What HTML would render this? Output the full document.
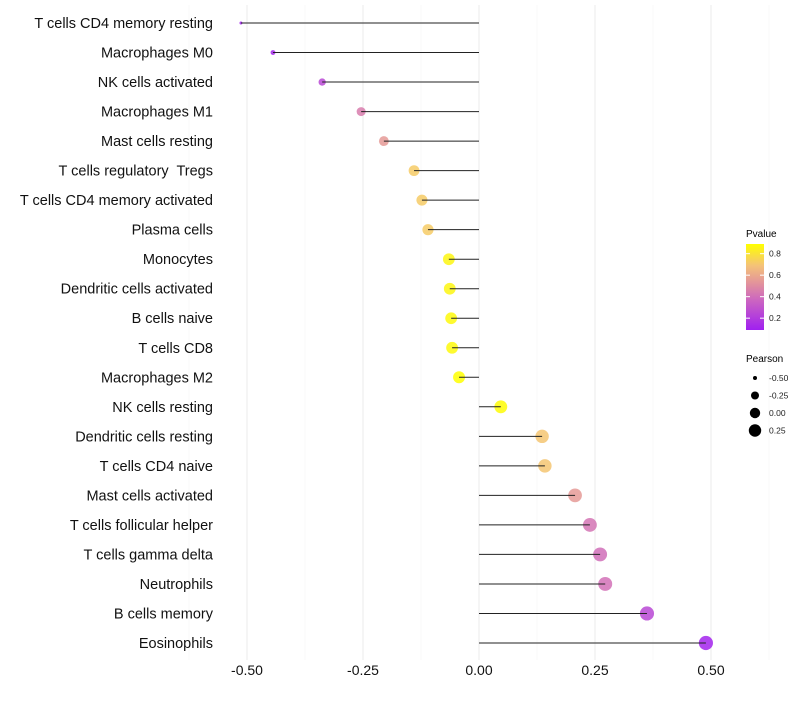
<!DOCTYPE html>
<html><head><meta charset="utf-8"><style>
body{margin:0;background:#fff;font-family:"Liberation Sans",sans-serif;}
</style></head><body>
<svg id="chart" width="800" height="700" xmlns="http://www.w3.org/2000/svg" font-family="Liberation Sans, sans-serif">
<defs>
<linearGradient id="pg" x1="0" y1="1" x2="0" y2="0">
<stop offset="0" stop-color="#a020f0"/>
<stop offset="0.35" stop-color="#cc66c0"/>
<stop offset="0.55" stop-color="#e3949a"/>
<stop offset="0.75" stop-color="#f4c278"/>
<stop offset="1" stop-color="#ffff00"/>
</linearGradient>
</defs>
<g id="grid"></g>
<g id="marks"></g>
<g id="ylabels"></g>
<g id="xlabels"></g>
<g>
<text x="746" y="237" font-size="10">Pvalue</text>
<rect x="746" y="244" width="18" height="86" fill="url(#pg)"/>
<g id="pticks"></g>
</g>
<g>
<text x="746" y="362" font-size="10">Pearson</text>
<g id="sizeleg"></g>
</g>
</svg>
<script>
const categories=["T cells CD4 memory resting","Macrophages M0","NK cells activated","Macrophages M1","Mast cells resting","T cells regulatory\u00a0 Tregs","T cells CD4 memory activated","Plasma cells","Monocytes","Dendritic cells activated","B cells naive","T cells CD8","Macrophages M2","NK cells resting","Dendritic cells resting","T cells CD4 naive","Mast cells activated","T cells follicular helper","T cells gamma delta","Neutrophils","B cells memory","Eosinophils"];
const pearson=[-0.513,-0.444,-0.338,-0.254,-0.205,-0.140,-0.123,-0.110,-0.065,-0.063,-0.060,-0.058,-0.043,0.047,0.136,0.142,0.207,0.239,0.261,0.272,0.362,0.489];
const pvalue=[0.10,0.12,0.25,0.45,0.55,0.72,0.72,0.72,0.86,0.86,0.87,0.87,0.90,0.88,0.70,0.70,0.55,0.42,0.40,0.41,0.25,0.11];
const xTicks=[-0.5,-0.25,0,0.25,0.5];
const xTickLabels=["-0.50","-0.25","0.00","0.25","0.50"];
const pTicks=[0.2,0.4,0.6,0.8];
const sizeLegend=[-0.5,-0.25,0,0.25];
const sizeLegendLabels=["-0.50","-0.25","0.00","0.25"];
const NS="http://www.w3.org/2000/svg";
const X=v=>479+v*464;
const Y=i=>23+i*(620/21);
const R=v=>{const t=Math.max(0,Math.min(1,(0.5-v)/1.013));return 7.1-5.6*Math.pow(t,2.6);};
const stops=[[0,[160,32,240]],[0.35,[204,102,192]],[0.55,[227,148,154]],[0.75,[244,194,120]],[1,[255,255,0]]];
function col(p){let t=(p-0.09)/0.8;t=Math.max(0,Math.min(1,t));
for(let k=1;k<stops.length;k++){if(t<=stops[k][0]){const a=stops[k-1],b=stops[k];const f=(t-a[0])/(b[0]-a[0]);
return "rgb("+a[1].map((c,j)=>Math.round(c+(b[1][j]-c)*f)).join(",")+")";}}return "rgb(255,255,0)";}
function mk(tag,attrs,parent){const e=document.createElementNS(NS,tag);for(const k in attrs)e.setAttribute(k,attrs[k]);parent.appendChild(e);return e;}
const grid=document.getElementById('grid');
for(let g=-0.625;g<=0.626;g+=0.125){const major=Math.abs((g*4)-Math.round(g*4))<1e-6;
const l=mk('line',{x1:X(g),x2:X(g),y1:5,y2:660,stroke:major?'#ebebeb':'#f4f4f4','stroke-width':major?1:0.6},grid);

}
const marks=document.getElementById('marks');
categories.forEach((c,i)=>{
const d=mk('circle',{cx:X(pearson[i]),cy:Y(i),r:R(pearson[i]),fill:col(pvalue[i]),'fill-opacity':0.85},marks);


const s=mk('line',{x1:X(0),x2:X(pearson[i]),y1:Y(i),y2:Y(i),stroke:'#222','stroke-width':1},marks);


const t=mk('text',{x:213,y:Y(i)+5,'text-anchor':'end','font-size':14.5,fill:'#111'},document.getElementById('ylabels'));
t.textContent=c;


});
xTicks.forEach((v,i)=>{const t=mk('text',{x:X(v),y:675,'text-anchor':'middle','font-size':14,fill:'#111'},document.getElementById('xlabels'));
t.textContent=xTickLabels[i];

});
const pt=document.getElementById('pticks');
pTicks.forEach(p=>{const y=330-(p-0.09)/0.8*86;
mk('line',{x1:746,x2:750,y1:y,y2:y,stroke:'#fff'},pt);mk('line',{x1:760,x2:764,y1:y,y2:y,stroke:'#fff'},pt);
const t=mk('text',{x:769,y:y+3,'font-size':8.5,fill:'#222'},pt);t.textContent=p.toFixed(1);

});
const sl=document.getElementById('sizeleg');
sizeLegend.forEach((v,i)=>{const y=378+i*17.5;
mk('circle',{cx:755,cy:y,r:[2,4,5.2,6.2][i],fill:'#000'},sl);
const t=mk('text',{x:769,y:y+3,'font-size':8.5,fill:'#222'},sl);t.textContent=sizeLegendLabels[i];

});
</script>
</body></html>
